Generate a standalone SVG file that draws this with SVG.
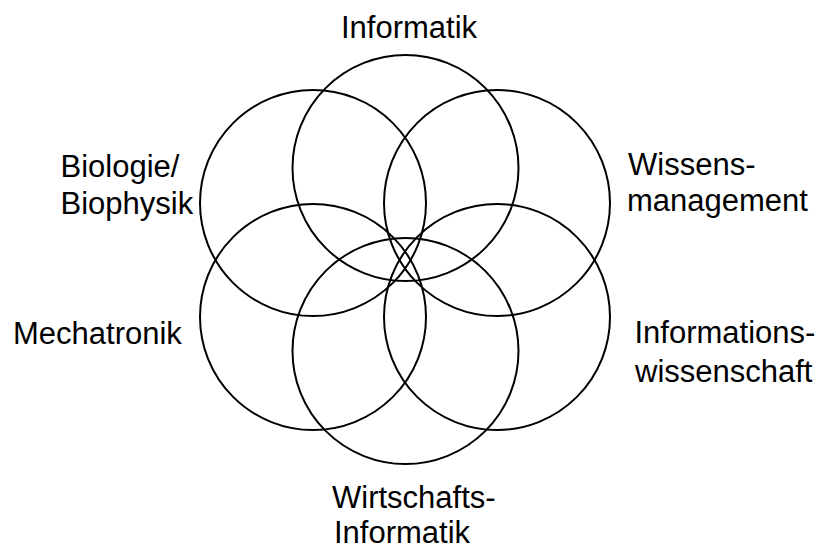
<svg xmlns="http://www.w3.org/2000/svg" width="825" height="555" viewBox="0 0 825 555">
<style>
.c{fill:none;stroke:#000;stroke-width:2}
.t{font-family:"Liberation Sans",Arial,sans-serif;font-size:31px;fill:#000}
</style>
<rect width="825" height="555" fill="#fff"/>
<g id="circles">
<circle id="c-informatik" class="c" cx="405.5" cy="168" r="113"/>
<circle id="c-biologie" class="c" cx="313" cy="203" r="113"/>
<circle id="c-wissen" class="c" cx="497" cy="203" r="113"/>
<circle id="c-mechatronik" class="c" cx="313" cy="317" r="113"/>
<circle id="c-infowiss" class="c" cx="497" cy="317" r="113"/>
<circle id="c-wirtschaft" class="c" cx="405.5" cy="351" r="113"/>
</g>
<g id="labels">
<text class="t" x="341" y="38">Informatik</text>
<text class="t" x="60.5" y="177">Biologie/<tspan x="60.5" y="214">Biophysik</tspan></text>
<text class="t" x="628" y="175">Wissens-<tspan x="627" y="211">management</tspan></text>
<text class="t" x="13" y="344">Mechatronik</text>
<text class="t" x="634.5" y="343">Informations-<tspan x="635" y="381.5">wissenschaft</tspan></text>
<text class="t" x="332" y="507.5">Wirtschafts-<tspan x="334" y="543">Informatik</tspan></text>
</g>
</svg>
